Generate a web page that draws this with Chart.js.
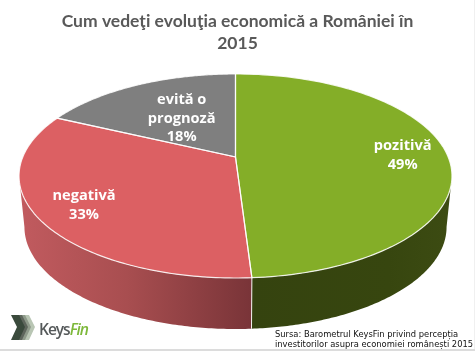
<!DOCTYPE html>
<html><head><meta charset="utf-8">
<script src="https://cdn.jsdelivr.net/npm/chart.js@4"></script>
<style>
html,body{margin:0;padding:0;background:#fff}
#w{position:absolute;left:0;top:0;width:475px;height:351px;overflow:hidden}
canvas{display:block}
#w:after{content:"";position:absolute;left:0;top:349px;width:475px;height:2px;background:#dcdcdc}
#r{position:absolute;left:474px;top:0;width:1px;height:351px;background:#f0f0f0}
</style></head><body>
<div id="w"><canvas id="c" width="475" height="351"></canvas><div id="r"></div></div>
<script>
const categories = ["pozitivă", "negativă", "evită o\nprognoză"];
const values = [49, 33, 18];
const titleLines = ["Cum vedeţi evoluţia economică a României în", "2015"];
const sourceLines = ["Sursa: Barometrul KeysFin privind percepția", "investitorilor asupra economiei românești 2015"];
const topColors = ["#84AE28", "#DC6063", "#7F7F7F"];

const G = {x0:235.5, y0:157, a:212.7, b:98.5, k:0.186, depth:51, shrink:0.975};
const labelR = [0.79, 0.79, 0.51];

function proj(theta, r=1, lower=false){
  const u = r*Math.sin(theta), v = -r*Math.cos(theta);
  const w = 1 - G.k*v;
  const dx = G.a*u/w, dy = G.b*v/w;
  return lower ? [G.x0 + dx*G.shrink, G.y0 + G.depth + dy] : [G.x0 + dx, G.y0 + dy];
}
function hGrad(ctx, x1, x2, stops){
  const g = ctx.createLinearGradient(x1,0,x2,0);
  stops.forEach(s=>g.addColorStop(s[0],s[1]));
  return g;
}
const pie3d = {
  id:'pie3d',
  beforeDatasetsDraw(chart){
    const ctx = chart.ctx;
    const arcs = chart.getDatasetMeta(0).data;
    const th = arcs.map(a=>[a.startAngle+Math.PI/2, a.endAngle+Math.PI/2]);
    const fl = Math.acos(-G.k), fr = 2*Math.PI - fl;
    const N = 120;
    const sideStops = [
      [25,252,[[0,'#C05A5E'],[0.45,'#A84E50'],[1,'#793438']]],
      [252,447,[[0,'#35430F'],[0.7,'#37460F'],[1,'#3C4B12']]]
    ];
    th.forEach((t,i)=>{
      const s = Math.max(t[0],fl), e = Math.min(t[1],fr);
      if(e<=s) return;
      ctx.beginPath();
      for(let j=0;j<=N;j++){const p=proj(s+(e-s)*j/N);j?ctx.lineTo(p[0],p[1]):ctx.moveTo(p[0],p[1]);}
      for(let j=N;j>=0;j--){const p=proj(s+(e-s)*j/N,1,true);ctx.lineTo(p[0],p[1]);}
      ctx.closePath();
      const st = i===0?sideStops[1]:sideStops[0];
      ctx.fillStyle = hGrad(ctx,st[0],st[1],st[2]);
      ctx.fill();
    });
    const sa = proj(th[0][1]), sb = proj(th[0][1],1,true);
    ctx.strokeStyle='rgba(255,255,255,0.9)';ctx.lineWidth=1;
    ctx.beginPath();ctx.moveTo(sa[0],sa[1]);ctx.lineTo(sb[0],sb[1]);ctx.stroke();
    th.forEach((t,i)=>{
      const apex = proj(0,0);
      ctx.beginPath();ctx.moveTo(apex[0],apex[1]);
      for(let j=0;j<=N;j++){const p=proj(t[0]+(t[1]-t[0])*j/N);ctx.lineTo(p[0],p[1]);}
      ctx.closePath();
      ctx.fillStyle=arcs[i].options.backgroundColor;
      ctx.fill();
    });
    th.forEach((t,i)=>{
      const apex = proj(0,0);
      ctx.beginPath();ctx.moveTo(apex[0],apex[1]);
      for(let j=0;j<=N;j++){const p=proj(t[0]+(t[1]-t[0])*j/N);ctx.lineTo(p[0],p[1]);}
      ctx.closePath();
      ctx.strokeStyle='rgba(255,255,255,0.85)';ctx.lineWidth=1.2;
      ctx.stroke();
    });
    ctx.fillStyle='#fff';ctx.textAlign='center';ctx.textBaseline='alphabetic';
    ctx.font='bold 14.6px "Open Sans"';
    th.forEach((t,i)=>{
      const lines = (chart.data.labels[i]+"\n"+values[i]+"%").split("\n");
      const c = proj((t[0]+t[1])/2,labelR[i]);
      const lh = 18.5;
      lines.forEach((l,n)=>{
        ctx.fillText(l,c[0],c[1]+5+(n-(lines.length-1)/2)*lh);
      });
    });
    ctx.fillStyle='#111';ctx.textAlign='left';
    ctx.font='8.35px "DejaVu Sans"';
    sourceLines.forEach((l,n)=>ctx.fillText(l,275,337+n*10));
    const shades=[['#B9C6B4',10],['#8E9A8A',6],['#5E665C',3],['#3A4A3C',0]];
    shades.forEach(s=>{
      const d=s[1];
      ctx.fillStyle=s[0];
      ctx.beginPath();
      ctx.moveTo(11+d,315);ctx.lineTo(19+d,315);ctx.lineTo(25+d,327);ctx.lineTo(19+d,340);
      ctx.lineTo(11+d,340);ctx.lineTo(17+d,327);ctx.closePath();ctx.fill();
    });
    ctx.font='600 15.5px "Open Sans"';
    ctx.letterSpacing='-1px';
    ctx.fillStyle='#55595A';ctx.fillText('Keys',39,334.5);
    const w=ctx.measureText('Keys').width;
    ctx.fillStyle='#7DB83A';ctx.font='italic 600 15.5px "Open Sans"';ctx.fillText('Fin',39+w,334.5);
    ctx.letterSpacing='0px';
    return false;
  }
};
new Chart(document.getElementById('c'),{
  type:'pie',
  data:{labels:categories,datasets:[{data:values,backgroundColor:topColors,borderWidth:0}]},
  options:{
    responsive:false,animation:false,
    layout:{padding:{top:6,bottom:20}},
    plugins:{
      legend:{display:false},tooltip:{enabled:false},
      title:{display:true,text:titleLines,color:'#595959',font:{family:'Lato',size:17.5,weight:'bold',lineHeight:1.26},padding:{top:4,bottom:0}}
    }
  },
  plugins:[pie3d]
});
</script></body></html>
